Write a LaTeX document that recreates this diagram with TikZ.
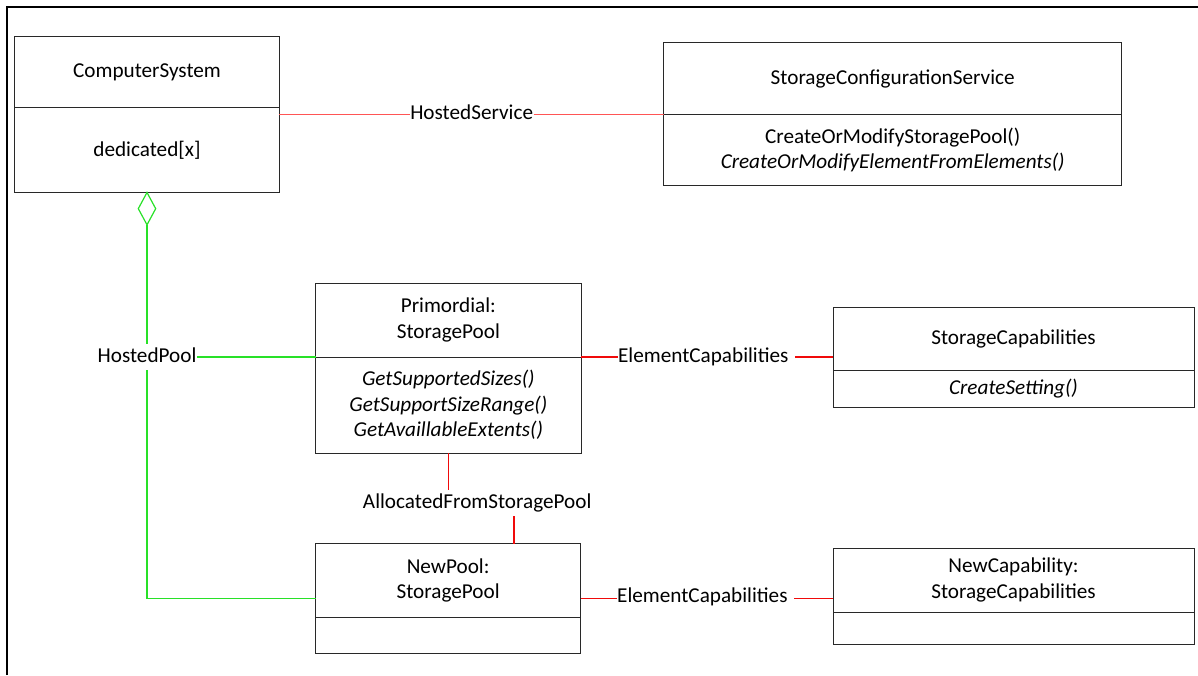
\documentclass[tikz,border=0pt]{standalone}
\usepackage{fontspec}
\setmainfont{Carlito}
\usetikzlibrary{shapes.geometric}
\definecolor{boxline}{RGB}{40,40,40}
\definecolor{assocred}{RGB}{240,10,10}
\definecolor{lightred}{RGB}{255,85,85}
\definecolor{aggreen}{RGB}{40,225,40}
\tikzset{
  cls/.style={draw=boxline, line width=1pt, rectangle, inner sep=0pt, outer sep=0pt, anchor=north west, align=center,
    font=\fontsize{21.2}{25.7}\selectfont},
  lbl/.style={inner xsep=0.5pt, inner ysep=3pt, outer sep=0pt, text height=15pt, text depth=5pt,
    font=\fontsize{21.2}{25.7}\selectfont},
  redline/.style={draw=assocred, line width=1.4pt},
  lredline/.style={draw=lightred, line width=1.6pt},
  greenline/.style={draw=aggreen, line width=1.4pt}
}
\begin{document}
\begin{tikzpicture}[x=1pt,y=-1pt]
\useasboundingbox (0,0) rectangle (1198,675);
% frame
\draw[line width=2.2pt] (7,675) -- (7,7) -- (1198,7);

% ComputerSystem
\node[cls, minimum width=264.6pt, minimum height=71pt] (cs) at (14.7,36.5) {ComputerSystem};
\node[cls, minimum width=264.6pt, minimum height=85pt] (csb) at (cs.south west) {dedicated[x]};

% StorageConfigurationService
\node[cls, minimum width=458pt, minimum height=72pt] (scs) at (663.7,42.5) {StorageConfigurationService};
\node[cls, minimum width=458pt, minimum height=71pt] (scsb) at (scs.south west)
  {CreateOrModifyStoragePool()\\\textit{CreateOrModifyElementFromElements()}};

% Primordial StoragePool
\node[cls, minimum width=265.3pt, minimum height=73.5pt] (pp) at (315.7,283.5) {Primordial:\\StoragePool};
\node[cls, minimum width=265.3pt, minimum height=96pt] (ppb) at (pp.south west)
  {\textit{GetSupportedSizes()}\\\textit{GetSupportSizeRange()}\\\textit{GetAvaillableExtents()}};

% StorageCapabilities
\node[cls, minimum width=361pt, minimum height=63pt] (sc) at (833,307) {StorageCapabilities};
\node[cls, minimum width=361pt, minimum height=37pt] (scb) at (sc.south west) {\textit{CreateSetting()}};

% NewPool
\node[cls, minimum width=264.8pt, minimum height=74pt] (np) at (315.7,543.5) {NewPool:\\StoragePool};
\node[cls, minimum width=264.8pt, minimum height=36pt] (npb) at (np.south west) {};

% NewCapability
\node[cls, minimum width=361pt, minimum height=64.3pt] (nc) at (833,548) {NewCapability:\\StorageCapabilities};
\node[cls, minimum width=361pt, minimum height=32pt] (ncb) at (nc.south west) {};

% labels
\node[lbl] (hs) at (471.7,114.5) {HostedService};
\node[lbl] (hp) at (147,357) {HostedPool};
\node[lbl] (ec1) at (703.3,357) {ElementCapabilities};
\node[lbl] (afs) at (477.2,503) {AllocatedFromStoragePool};
\node[lbl] (ec2) at (702.4,597) {ElementCapabilities};

% aggregation diamond
\node[diamond, draw=aggreen, line width=1.2pt, inner sep=0pt, outer sep=0pt, anchor=north,
  minimum width=17.4pt, minimum height=32.3pt] (dia) at (csb.south) {};

\coordinate (npW) at ([yshift=-18pt]np.west);
\coordinate (npE) at ([yshift=-18pt]np.east);
\coordinate (npT) at ([xshift=66pt]np.north);

% HostedService
\draw[lredline] (csb.east |- hs.west) -- (hs.west);
\draw[lredline] (hs.east) -- (scsb.north west);

% HostedPool
\draw[greenline] (dia.south) -- (dia.south |- hp.north);
\draw[greenline] (dia.south |- hp.south) |- (npW);
\draw[greenline] (hp.east) -- (hp.east -| ppb.west);

% ElementCapabilities 1
\draw[redline] (ec1.west -| ppb.east) -- (ec1.west);
\draw[redline] ([xshift=6pt]ec1.east) -- (sc.west |- ec1.east);

% AllocatedFromStoragePool
\draw[redline] (ppb.south) -- (ppb.south |- afs.north);
\draw[redline] (afs.south -| npT) -- (npT);

% ElementCapabilities 2
\draw[redline] (npE) -- (npE -| ec2.west);
\draw[redline] ([xshift=6pt]ec2.east |- npE) -- (nc.west |- npE);
\end{tikzpicture}
\end{document}
